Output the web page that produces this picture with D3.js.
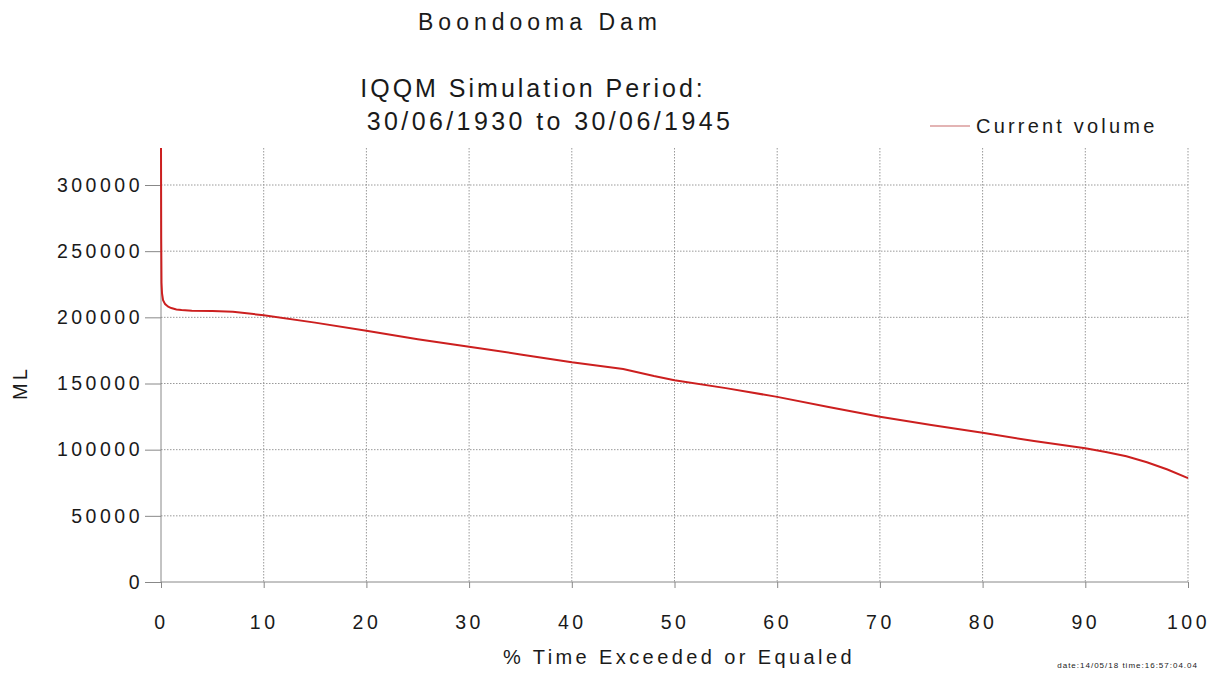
<!DOCTYPE html>
<html>
<head>
<meta charset="utf-8">
<script src="https://cdn.jsdelivr.net/npm/d3@7"></script>
<style>
  body { margin: 0; background: #fff; }
  text { font-family: "Liberation Sans", Arial, sans-serif; fill: #1a1a1a; }
</style>
</head>
<body>
<svg width="1220" height="675"></svg>
<script>
// % time exceeded vs current volume (ML)
var pctExceeded = [0, 0.02, 0.05, 0.1, 0.2, 0.4, 0.7, 1, 1.5, 2, 3, 5, 7, 10, 15, 20, 25, 30, 35, 40, 45, 48, 50, 55, 60, 65, 70, 75, 80, 85, 90, 92, 94, 96, 98, 100];
var volume =      [328000, 260000, 226000, 218000, 213000, 210000, 208000, 207000, 206000, 205500, 205000, 204800, 204200, 201600, 196000, 189800, 183500, 177700, 172000, 166000, 160900, 155600, 152500, 146500, 139900, 132200, 124800, 118600, 112800, 106500, 101000, 98300, 95000, 90500, 85000, 78500];
var xTicks = [0, 10, 20, 30, 40, 50, 60, 70, 80, 90, 100];
var yTicks = [0, 50000, 100000, 150000, 200000, 250000, 300000];

var svg = d3.select("svg");
var plotLeft = 161, plotRight = 1188, plotTop = 148, plotBottom = 582;

var x = d3.scaleLinear().domain([0, 100]).range([plotLeft, plotRight]);
var y = d3.scaleLinear().domain([0, 300000]).range([plotBottom, 185]);

// grid
svg.append("g").selectAll("line").data(xTicks.slice(1)).enter().append("line")
  .attr("x1", d => x(d)).attr("x2", d => x(d))
  .attr("y1", plotTop).attr("y2", plotBottom)
  .attr("stroke", "#999").attr("stroke-dasharray", "1.5,1.5");
svg.append("g").selectAll("line").data(yTicks.slice(1)).enter().append("line")
  .attr("x1", plotLeft).attr("x2", plotRight)
  .attr("y1", d => y(d)).attr("y2", d => y(d))
  .attr("stroke", "#999").attr("stroke-dasharray", "1.5,1.5");

// axes
var xAxis = svg.append("g").attr("transform", "translate(0," + plotBottom + ")")
  .call(d3.axisBottom(x).tickValues(xTicks).tickSize(6).tickPadding(27));
var yAxis = svg.append("g").attr("transform", "translate(" + plotLeft + ",0)")
  .call(d3.axisLeft(y).tickValues(yTicks).tickSize(16).tickPadding(2).tickFormat(d3.format("d")));
[xAxis, yAxis].forEach(function(a){
  a.select(".domain").remove();
  a.selectAll("line").attr("stroke", "#888");
  a.selectAll("text").style("font-size", "19.5px").style("letter-spacing", "3.5px")
    .attr("fill", "#1a1a1a").style("font-family", "'Liberation Sans', Arial, sans-serif");
});
svg.append("line").attr("x1", plotLeft).attr("x2", plotRight).attr("y1", plotBottom).attr("y2", plotBottom).attr("stroke", "#888");
svg.append("line").attr("x1", plotLeft).attr("x2", plotLeft).attr("y1", plotTop).attr("y2", plotBottom).attr("stroke", "#888");

// line
var line = d3.line().x((d, i) => x(pctExceeded[i])).y(d => y(d));
svg.append("path").datum(volume).attr("d", line)
  .attr("fill", "none").attr("stroke", "#cc1f1f").attr("stroke-width", 2);

// titles
svg.append("text").attr("x", 540).attr("y", 30).attr("text-anchor", "middle")
  .style("font-size", "23px").style("letter-spacing", "5px").text("Boondooma Dam");
svg.append("text").attr("x", 533).attr("y", 97).attr("text-anchor", "middle")
  .style("font-size", "25px").style("letter-spacing", "3px").text("IQQM Simulation Period:");
svg.append("text").attr("x", 550).attr("y", 130).attr("text-anchor", "middle")
  .style("font-size", "25px").style("letter-spacing", "3.4px").text("30/06/1930 to 30/06/1945");

// legend
svg.append("line").attr("x1", 930).attr("x2", 970).attr("y1", 126).attr("y2", 126)
  .attr("stroke", "#c86a6a").attr("stroke-width", 1.2);
svg.append("text").attr("x", 976).attr("y", 133)
  .style("font-size", "20px").style("letter-spacing", "3.2px").text("Current volume");

// axis labels
svg.append("text").attr("x", 679).attr("y", 664).attr("text-anchor", "middle")
  .style("font-size", "20px").style("letter-spacing", "3.4px").text("% Time Exceeded or Equaled");
svg.append("text").attr("transform", "translate(27,383) rotate(-90)").attr("text-anchor", "middle")
  .style("font-size", "20px").style("letter-spacing", "3px").text("ML");

svg.append("text").attr("x", 1198).attr("y", 668).attr("text-anchor", "end")
  .style("font-size", "8px").style("letter-spacing", "1px").attr("fill", "#555").text("date:14/05/18  time:16:57:04.04");
</script>
</body>
</html>
